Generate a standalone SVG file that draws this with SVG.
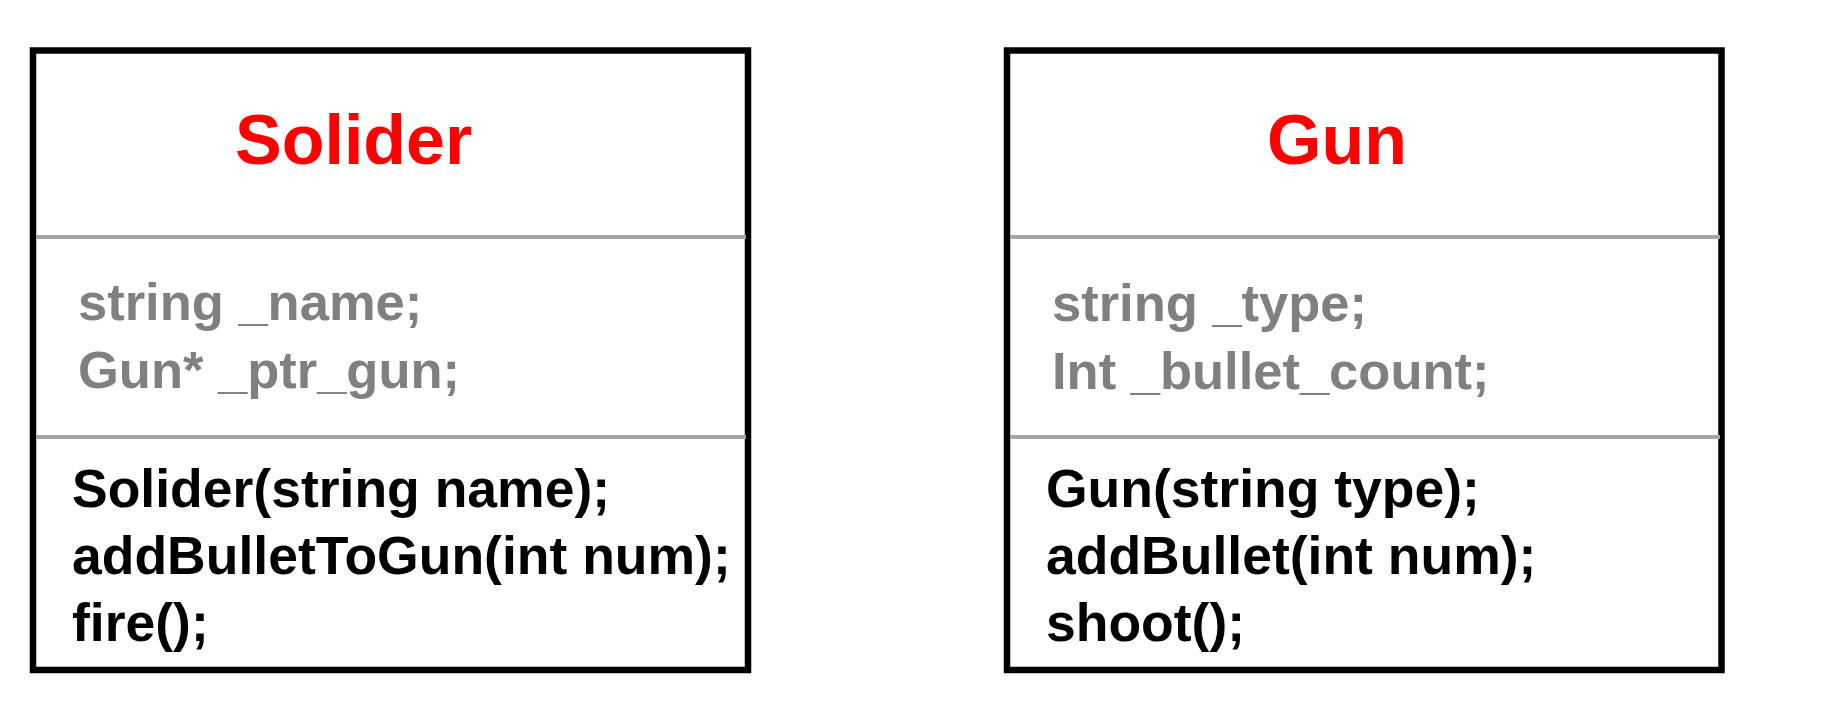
<svg xmlns="http://www.w3.org/2000/svg" width="1839" height="715" viewBox="0 0 1839 715">
<style>
.box{fill:#fff;stroke:#000;stroke-width:6.5}
.sep{stroke:#a6a6a6;stroke-width:4}
.title{font-family:"Liberation Sans",Arial,sans-serif;font-weight:bold;font-size:70px;fill:#ff0000}
.attr{font-family:"Liberation Sans",Arial,sans-serif;font-weight:bold;font-size:52.5px;fill:#808080}
.meth{font-family:"Liberation Sans",Arial,sans-serif;font-weight:bold;font-size:53.5px;fill:#000}
</style>
<rect width="1839" height="715" fill="#fff"/>
<g id="solider">
<rect class="box" x="33" y="50.5" width="715" height="619.5"/>
<line class="sep" x1="36" y1="237" x2="746" y2="237"/>
<line class="sep" x1="36" y1="437" x2="746" y2="437"/>
<text class="title" x="235" y="164">Solider</text>
<text class="attr" x="78" y="320">string _name;</text>
<text class="attr" x="78" y="388">Gun* _ptr_gun;</text>
<text class="meth" x="72" y="507">Solider(string name);</text>
<text class="meth" x="72" y="574">addBulletToGun(int num);</text>
<text class="meth" x="72" y="641">fire();</text>
</g>
<g id="gun">
<rect class="box" x="1007" y="50.5" width="714.5" height="619.5"/>
<line class="sep" x1="1010" y1="237" x2="1720" y2="237"/>
<line class="sep" x1="1010" y1="437" x2="1720" y2="437"/>
<text class="title" x="1267" y="164">Gun</text>
<text class="attr" x="1052" y="321">string _type;</text>
<text class="attr" x="1052" y="389">Int _bullet_count;</text>
<text class="meth" x="1046" y="507">Gun(string type);</text>
<text class="meth" x="1046" y="574">addBullet(int num);</text>
<text class="meth" x="1046" y="641">shoot();</text>
</g>
<g id="connectors"></g>
</svg>
